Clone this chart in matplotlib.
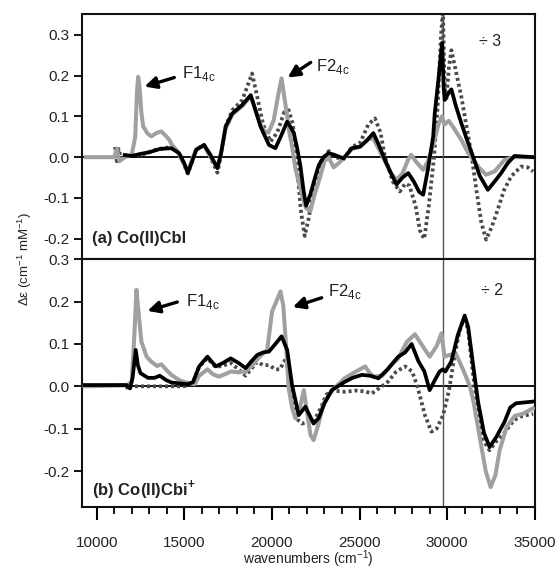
import matplotlib
matplotlib.use("Agg")
import matplotlib.pyplot as plt
from matplotlib.ticker import MultipleLocator

plt.rcParams['font.family'] = ['Liberation Sans', 'DejaVu Sans']
plt.rcParams['mathtext.fontset'] = 'custom'
plt.rcParams['mathtext.rm'] = 'Liberation Sans'

# (a) Co(II)Cbl  -- wavenumber (cm-1), delta epsilon
wn_gray_a = [9400, 11000, 11150, 11300, 11600, 12000, 12200, 12300, 12370, 12450, 12550, 12650,
             12900, 13120, 13450, 13690, 13950, 14150, 14300, 14600, 14900, 15200, 15450, 15700,
             16130, 16500, 16890, 17100, 17360, 17740, 18310, 18790, 19100, 19350, 19550, 19800,
             20100, 20350, 20550, 20700, 20870, 21000, 21150, 21350, 21700, 21950, 22190, 22450,
             22670, 23000, 23240, 23520, 23800, 24090, 24560, 25030, 25500, 25790, 26100, 26450,
             26800, 27110, 27450, 27780, 27950, 28200, 28630, 28900, 29200, 29500, 29700, 29850,
             30090, 30400, 30810, 31200, 31470, 31800, 32220, 32700, 33270, 33800, 34900]
de_gray_a = [0.0, 0.0, 0.02, -0.01, 0.0, 0.005, 0.05, 0.16, 0.197, 0.17, 0.11, 0.076,
             0.058, 0.051, 0.06, 0.063, 0.052, 0.042, 0.03, 0.015, -0.01, -0.035, -0.005, 0.02,
             0.028, 0.0, -0.025, 0.01, 0.07, 0.105, 0.125, 0.15, 0.11, 0.08, 0.065, 0.06,
             0.09, 0.15, 0.193, 0.15, 0.10, 0.06, 0.026, -0.03, -0.09, -0.125, -0.132, -0.09,
             -0.06, -0.01, 0.0, -0.025, -0.015, -0.003, 0.02, 0.025, 0.045, 0.045, 0.02, -0.01,
             -0.04, -0.055, -0.04, -0.005, 0.006, -0.01, -0.031, -0.01, 0.03, 0.08, 0.10, 0.08,
             0.089, 0.07, 0.042, 0.01, -0.005, -0.025, -0.043, -0.035, -0.007, 0.0, 0.0]

wn_black_a = [11600, 12000, 12500, 13000, 13600, 14260, 14700, 15000, 15200, 15450, 15680, 16130,
              16500, 16890, 17100, 17360, 17740, 18310, 18790, 19100, 19350, 19830, 20200, 20500,
              20870, 21050, 21250, 21450, 21630, 21800, 21950, 22200, 22480, 22670, 22950, 23240,
              23600, 24090, 24560, 25030, 25400, 25790, 26100, 26450, 26800, 27110, 27450, 27780,
              28100, 28400, 28630, 28900, 29200, 29290, 29500, 29710, 29800, 29860, 30050, 30240,
              30500, 30810, 31150, 31470, 31850, 32320, 32700, 33080, 33450, 33840, 34900]
de_black_a = [0.005, 0.003, 0.008, 0.012, 0.02, 0.022, 0.01, -0.015, -0.039, -0.01, 0.018, 0.03,
              0.005, -0.027, 0.01, 0.075, 0.107, 0.128, 0.152, 0.11, 0.075, 0.03, 0.022, 0.05,
              0.087, 0.075, 0.059, 0.02, -0.023, -0.08, -0.119, -0.09, -0.047, -0.02, 0.0, 0.01,
              0.005, -0.003, 0.022, 0.026, 0.04, 0.059, 0.03, -0.007, -0.04, -0.067, -0.05, -0.039,
              -0.06, -0.085, -0.092, -0.03, 0.05, 0.107, 0.19, 0.28, 0.17, 0.14, 0.155, 0.166,
              0.125, 0.083, 0.04, 0.002, -0.045, -0.08, -0.06, -0.039, -0.015, 0.003, 0.0]

wn_dot_a = [11050, 11150, 11250, 11400, 11700, 12500, 13500, 14260, 14700, 15200, 15450, 15680,
            16130, 16500, 16890, 17100, 17360, 17740, 18310, 18870, 19150, 19500, 19920, 20300,
            20700, 20960, 21200, 21450, 21650, 21870, 22100, 22450, 22800, 23240, 23600, 24090,
            24560, 25030, 25500, 25880, 26200, 26450, 26900, 27300, 27600, 27850, 28200, 28450,
            28690, 28950, 29250, 29450, 29650, 29760, 29850, 29950, 30100, 30240, 30450, 30810,
            31370, 31700, 31950, 32220, 32550, 32890, 33250, 33650, 34220, 34600, 34900]
de_dot_a = [0.025, -0.01, 0.02, -0.005, 0.005, 0.005, 0.02, 0.025, 0.01, -0.04, -0.01, 0.02,
            0.03, 0.0, -0.038, 0.005, 0.075, 0.115, 0.14, 0.205, 0.15, 0.08, 0.038, 0.06,
            0.11, 0.115, 0.08, -0.03, -0.13, -0.193, -0.15, -0.06, -0.01, 0.015, 0.0, -0.005,
            0.025, 0.035, 0.08, 0.095, 0.06, 0.0, -0.06, -0.084, -0.065, -0.07, -0.12, -0.18,
            -0.20, -0.12, 0.0, 0.12, 0.30, 0.36, 0.17, 0.14, 0.22, 0.262, 0.22, 0.148,
            0.01, -0.09, -0.16, -0.202, -0.17, -0.128, -0.08, -0.047, -0.023, -0.025, -0.035]

# (b) Co(II)Cbi+
wn_gray_b = [9300, 11700, 12000, 12150, 12270, 12400, 12550, 12850, 13120, 13450, 13690, 13950,
             14260, 14700, 15020, 15600, 15850, 16320, 16650, 16990, 17400, 17650, 18100, 18500,
             18900, 19300, 19730, 20010, 20250, 20490, 20650, 20800, 20960, 21150, 21340, 21600,
             21820, 22000, 22200, 22380, 22650, 22950, 23420, 24180, 24800, 25320, 25600, 25800,
             26300, 26800, 27210, 27700, 28160, 28600, 29000, 29400, 29670, 29850, 30200, 30520,
             30900, 31300, 31500, 31900, 32200, 32480, 32750, 33000, 33400, 33850, 34300, 34900]
de_gray_b = [0.0, 0.002, 0.01, 0.12, 0.228, 0.17, 0.106, 0.07, 0.058, 0.048, 0.052, 0.04,
             0.027, 0.015, 0.01, 0.005, 0.025, 0.04, 0.028, 0.023, 0.03, 0.035, 0.033, 0.035,
             0.05, 0.07, 0.086, 0.177, 0.20, 0.224, 0.19, 0.10, -0.005, -0.05, -0.076, -0.05,
             -0.009, -0.06, -0.115, -0.127, -0.09, -0.04, -0.01, 0.02, 0.035, 0.047, 0.03, 0.023,
             0.025, 0.05, 0.066, 0.105, 0.123, 0.095, 0.07, 0.095, 0.125, 0.07, 0.075, 0.075,
             0.04, 0.0, -0.036, -0.13, -0.2, -0.238, -0.21, -0.15, -0.095, -0.07, -0.065, -0.052]

wn_black_b = [9300, 11000, 11700, 11900, 12050, 12230, 12350, 12500, 12930, 13300, 13600, 13950,
              14260, 15200, 15500, 15850, 16320, 16800, 17200, 17650, 18100, 18500, 18850, 19160,
              19500, 19830, 20200, 20550, 20870, 21150, 21530, 21910, 22380, 22670, 23000, 23420,
              24180, 24600, 25130, 25600, 26080, 26600, 27210, 27600, 27970, 28350, 28700, 29000,
              29300, 29570, 29750, 29900, 30240, 30600, 31000, 31200, 31450, 31760, 32100, 32420,
              32800, 33270, 33600, 33930, 34900]
de_black_b = [0.003, 0.003, 0.003, -0.005, 0.02, 0.086, 0.05, 0.031, 0.02, 0.02, 0.025, 0.015,
              0.009, 0.005, 0.01, 0.047, 0.07, 0.047, 0.055, 0.066, 0.055, 0.043, 0.06, 0.074,
              0.08, 0.082, 0.1, 0.118, 0.086, 0.003, -0.068, -0.048, -0.088, -0.075, -0.04, -0.009,
              0.011, 0.02, 0.027, 0.025, 0.019, 0.04, 0.07, 0.08, 0.10, 0.06, 0.035, -0.009,
              0.015, 0.035, 0.04, 0.035, 0.059, 0.12, 0.167, 0.14, 0.06, -0.036, -0.11, -0.143,
              -0.12, -0.084, -0.05, -0.04, -0.036]

wn_dot_b = [11700, 11800, 12000, 15000, 15500, 15850, 16320, 16800, 17300, 17650, 18100, 18500,
            18900, 19160, 19500, 19830, 20200, 20450, 20800, 21000, 21250, 21500, 21720, 22000,
            22380, 22800, 23100, 23420, 24180, 24800, 25300, 25700, 26100, 26600, 27100, 27600,
            28000, 28300, 28730, 29100, 29400, 29770, 30100, 30430, 30700, 31000, 31200, 31500,
            31800, 32100, 32420, 32800, 33270, 33800, 34300, 34900]
de_dot_b = [0.0, -0.008, 0.0, 0.0, 0.01, 0.047, 0.066, 0.045, 0.05, 0.055, 0.04, 0.025,
            0.045, 0.058, 0.05, 0.05, 0.04, 0.04, 0.066, 0.02, -0.04, -0.08, -0.088, -0.084,
            -0.084, -0.05, -0.02, -0.01, -0.013, -0.01, -0.012, -0.017, -0.005, 0.01, 0.035, 0.047,
            0.035, 0.0, -0.068, -0.107, -0.1, -0.068, -0.01, 0.074, 0.13, 0.165, 0.13, 0.02,
            -0.07, -0.13, -0.151, -0.13, -0.11, -0.08, -0.07, -0.065]

yticks = [-0.2, -0.1, 0.0, 0.1, 0.2, 0.3]
ytick_labels = ['-0.2', '-0.1', '0.0', '0.1', '0.2', '0.3']
split_wn = 29770

GRAY = '#a0a0a0'
DOT = '#4a4a4a'
TXT = '#222222'

fig = plt.figure(figsize=(5.6, 5.71), dpi=100)
ax_a = fig.add_axes([0.146, 0.546, 0.809, 0.429])
ax_b = fig.add_axes([0.146, 0.112, 0.809, 0.434])

panels = [
    (ax_a, (-0.25, 0.35), (wn_gray_a, de_gray_a), (wn_black_a, de_black_a), (wn_dot_a, de_dot_a)),
    (ax_b, (-0.285, 0.30), (wn_gray_b, de_gray_b), (wn_black_b, de_black_b), (wn_dot_b, de_dot_b)),
]

for ax, ylim, gray, black, dot in panels:
    ax.axhline(0, color='black', lw=1.3, zorder=1)
    ax.axvline(split_wn, color='#555555', lw=1.0, zorder=1)
    ax.plot(*dot, color=DOT, lw=2.7, ls=(0, (0.8, 0.8)), zorder=2)
    ax.plot(*gray, color=GRAY, lw=2.9, zorder=3, solid_joinstyle='round')
    ax.plot(*black, color='black', lw=2.7, zorder=4, solid_joinstyle='round')
    ax.set_xlim(9150, 35000)
    ax.set_ylim(*ylim)
    ax.set_yticks(yticks)
    ax.set_yticklabels(ytick_labels)
    ax.tick_params(axis='y', direction='out', length=6, width=1.3, labelsize=11,
                   labelcolor=TXT, pad=3)
    for sp in ax.spines.values():
        sp.set_linewidth(1.5)
        sp.set_color('#111111')

ax_a.set_xticks([])
ax_a.tick_params(axis='x', which='both', bottom=False, labelbottom=False)

ax_b.xaxis.set_major_locator(MultipleLocator(5000))
ax_b.xaxis.set_minor_locator(MultipleLocator(1000))
ax_b.tick_params(axis='x', which='major', direction='out', length=9, width=1.5,
                 labelsize=11, labelcolor=TXT, pad=12)
ax_b.tick_params(axis='x', which='minor', direction='out', length=5, width=1.3)

arrow = dict(arrowstyle='-|>,head_length=0.7,head_width=0.35', color='black', lw=2.4,
             shrinkA=0, shrinkB=0)
f1 = 'F1$_{\\mathregular{4c}}$'
f2 = 'F2$_{\\mathregular{4c}}$'

ax_a.annotate('', xy=(12730, 0.173), xytext=(14430, 0.195), arrowprops=arrow)
ax_a.text(14850, 0.205, f1, fontsize=12, color=TXT, va='center')
ax_a.annotate('', xy=(20900, 0.195), xytext=(22210, 0.232), arrowprops=arrow)
ax_a.text(22500, 0.222, f2, fontsize=12, color=TXT, va='center')
ax_a.text(32450, 0.283, '\u00f7 3', fontsize=11.5, color=TXT, ha='center', va='center')
ax_a.text(9750, -0.2, '(a) Co(II)Cbl', fontsize=12, fontweight='bold', color=TXT, va='center')

ax_b.annotate('', xy=(12900, 0.178), xytext=(14600, 0.199), arrowprops=arrow)
ax_b.text(15100, 0.20, f1, fontsize=12, color=TXT, va='center')
ax_b.annotate('', xy=(21190, 0.187), xytext=(22840, 0.209), arrowprops=arrow)
ax_b.text(23200, 0.223, f2, fontsize=12, color=TXT, va='center')
ax_b.text(32550, 0.227, '\u00f7 2', fontsize=11.5, color=TXT, ha='center', va='center')
ax_b.text(9750, -0.244, '(b) Co(II)Cbi$^{\\mathregular{+}}$', fontsize=12, fontweight='bold',
          color=TXT, va='center')

ax_b.set_xlabel('wavenumbers (cm$^{\\mathregular{-1}}$)', fontsize=10, color=TXT, labelpad=-1)
fig.text(0.045, 0.546, '\u0394\u03b5 (cm$^{\\mathregular{-1}}$ mM$^{\\mathregular{-1}}$)',
         rotation=90, fontsize=9.5, color=TXT, ha='center', va='center')

fig.savefig('out.png', dpi=100)
